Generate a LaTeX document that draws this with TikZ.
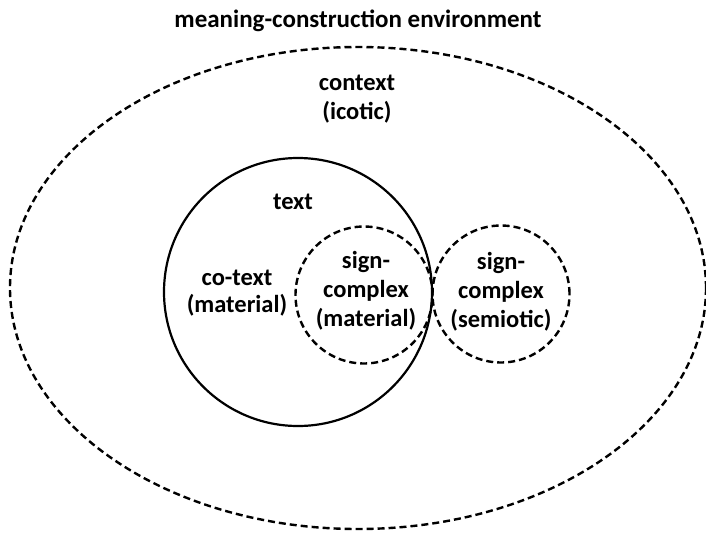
\documentclass[tikz,border=0pt]{standalone}
\usepackage{fontspec}
\setmainfont{Carlito}
\usetikzlibrary{shapes.geometric}
\begin{document}
\begin{tikzpicture}[x=1pt,y=-1pt,
  lbl/.style={font=\bfseries\fontsize{24.5}{29}\selectfont, align=center, inner sep=0pt},
  dsh/.style={draw, line width=2.4pt, dash pattern=on 7pt off 4pt},
  solidc/.style={draw, line width=2.2pt, circle, inner sep=0pt},
  dshc/.style={dsh, circle, inner sep=0pt}]
\useasboundingbox (0,0) rectangle (706,533);
\node[dsh, ellipse, inner sep=0pt, minimum width=696pt, minimum height=482pt] (env) at (358,288) {};
\node[solidc, minimum size=268pt] (textc) at (298,292) {};
\node[dshc, minimum size=137pt] (matc) at (364,295) {};
\node[dshc, minimum size=137pt] (semc) at (501,294) {};
\node[lbl, font=\bfseries\fontsize{25}{29}\selectfont] (title) at (358,21) {meaning-construction environment};
\node[lbl] (ctx) at (357,99) {context\\(icotic)};
\node[lbl] (txt) at (293,202) {text};
\node[lbl, font=\bfseries\fontsize{24.5}{27}\selectfont] (cotext) at (237,293) {co-text\\(material)};
\node[lbl] (matlbl) at (366,291) {sign-\\complex\\(material)};
\node[lbl] (semlbl) at (501,292) {sign-\\complex\\(semiotic)};
\end{tikzpicture}
\end{document}
